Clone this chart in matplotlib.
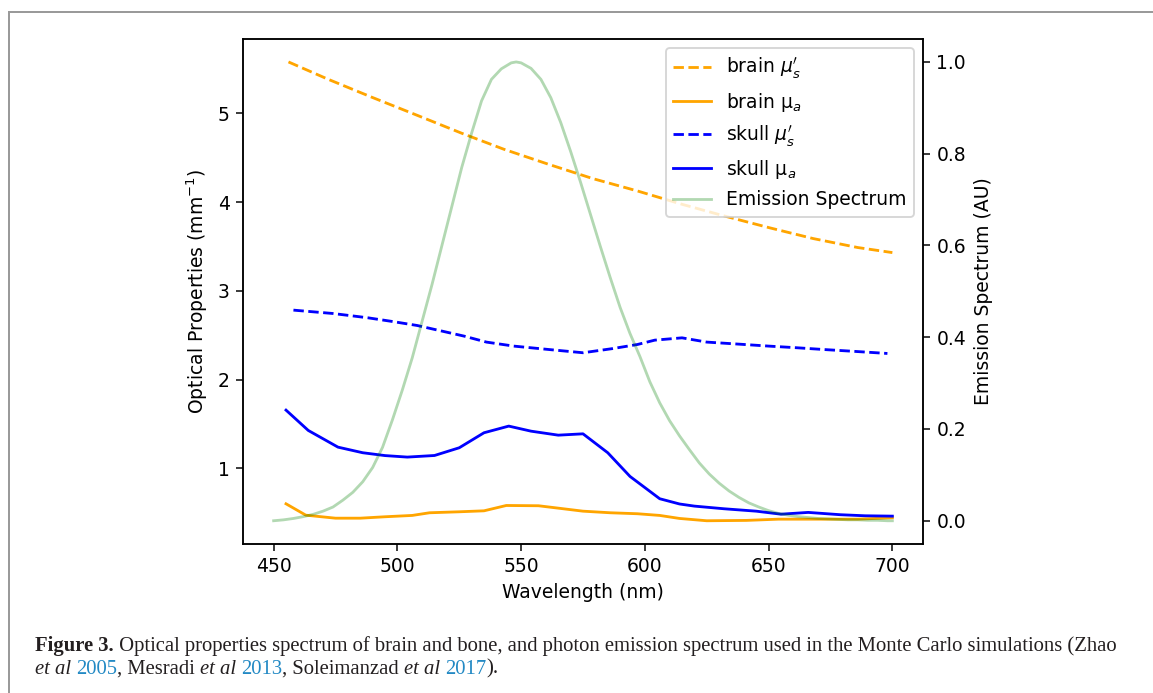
import matplotlib
matplotlib.use('Agg')
import matplotlib.pyplot as plt
from matplotlib.lines import Line2D

# ---------------- data ----------------
wl_brain_mus = [456, 472, 490, 508, 526, 543, 561, 579, 597, 615, 632, 650, 668, 686, 700]
brain_mus = [5.578, 5.383, 5.177, 4.977, 4.775, 4.595, 4.426, 4.264, 4.125, 3.975,
             3.844, 3.713, 3.589, 3.488, 3.431]

wl_brain_mua = [455, 463, 475, 485, 495, 506, 513, 525, 535, 544, 557, 565, 575, 586,
                597, 606, 614, 625, 641, 654, 668, 686, 700]
brain_mua = [0.602, 0.474, 0.440, 0.440, 0.456, 0.471, 0.501, 0.512, 0.523, 0.583, 0.580,
             0.553, 0.519, 0.501, 0.490, 0.471, 0.437, 0.411, 0.415, 0.429, 0.429, 0.429, 0.445]

wl_skull_mus = [458, 474, 488, 498, 508, 518, 527, 536, 547, 561, 575, 587, 597, 604,
                615, 625, 638, 650, 661, 672, 685, 698]
skull_mus = [2.783, 2.745, 2.697, 2.655, 2.610, 2.547, 2.490, 2.423, 2.378, 2.340, 2.303,
             2.350, 2.396, 2.445, 2.471, 2.423, 2.400, 2.378, 2.360, 2.340, 2.318, 2.295]

wl_skull_mua = [455, 464, 476, 486, 495, 504, 515, 525, 535, 545, 554, 565, 575, 585,
                594, 606, 614, 620, 632, 645, 655, 666, 679, 689, 700]
skull_mua = [1.657, 1.428, 1.240, 1.177, 1.145, 1.128, 1.146, 1.233, 1.402, 1.477, 1.420,
             1.375, 1.390, 1.177, 0.910, 0.659, 0.600, 0.576, 0.546, 0.519, 0.485, 0.505,
             0.479, 0.467, 0.463]

wl_emission = [450, 454, 458, 462, 466, 470, 474, 478, 482, 486, 490, 494, 498, 502, 506,
               510, 514, 518, 522, 526, 530, 534, 538, 542, 546, 548, 550, 554, 558, 562,
               566, 570, 574, 578, 582, 586, 590, 594, 598, 602, 606, 610, 614, 618, 622,
               626, 630, 634, 638, 642, 646, 650, 654, 658, 662, 666, 670, 674, 678, 682,
               686, 690, 694, 698, 700]
emission = [0.000, 0.002, 0.005, 0.009, 0.014, 0.021, 0.030, 0.045, 0.062, 0.085, 0.116,
            0.160, 0.220, 0.285, 0.355, 0.435, 0.515, 0.600, 0.685, 0.770, 0.845, 0.915,
            0.962, 0.985, 0.998, 1.000, 0.998, 0.986, 0.962, 0.922, 0.868, 0.805, 0.738,
            0.668, 0.598, 0.530, 0.465, 0.408, 0.358, 0.303, 0.257, 0.218, 0.185, 0.155,
            0.126, 0.102, 0.082, 0.065, 0.051, 0.039, 0.030, 0.022, 0.016, 0.012, 0.009,
            0.007, 0.005, 0.004, 0.003, 0.002, 0.002, 0.001, 0.001, 0.000, 0.000]

labels = [r"brain $\mu_s'$", r"brain μ$_a$", r"skull $\mu_s'$", r"skull μ$_a$", "Emission Spectrum"]

caption_line1 = [("Figure 3.", dict(weight='bold')),
                 (" Optical properties spectrum of brain and bone, and photon emission spectrum "
                  "used in the Monte Carlo simulations (Zhao", {})]
LINK = '#2289c4'
caption_line2 = [("et al", dict(style='italic')), (" ", {}), ("2005", dict(color=LINK)),
                 (", Mesradi ", {}), ("et al", dict(style='italic')), (" ", {}),
                 ("2013", dict(color=LINK)), (", Soleimanzad ", {}),
                 ("et al", dict(style='italic')), (" ", {}), ("2017", dict(color=LINK)),
                 (").", {})]

# ---------------- figure ----------------
DPI = 135
W, H = 1153, 693
fig = plt.figure(figsize=(W / DPI, H / DPI), dpi=DPI)
fig.patch.set_facecolor('white')

ax = fig.add_axes([242.7 / W, 1 - 543.7 / H, (923.3 - 242.7) / W, (543.7 - 39) / H])
ax2 = ax.twinx()

h1, = ax.plot(wl_brain_mus, brain_mus, '--', color='orange', lw=1.5, label=labels[0])
h2, = ax.plot(wl_brain_mua, brain_mua, '-', color='orange', lw=1.5, label=labels[1])
h3, = ax.plot(wl_skull_mus, skull_mus, '--', color='blue', lw=1.5, label=labels[2])
h4, = ax.plot(wl_skull_mua, skull_mua, '-', color='blue', lw=1.5, label=labels[3])
h5, = ax2.plot(wl_emission, emission, '-', color='green', alpha=0.3, lw=1.5, label=labels[4])

ax.set_xlabel("Wavelength (nm)")
ax.set_ylabel("Optical Properties (mm$^{-1}$)")
ax2.set_ylabel("Emission Spectrum (AU)")
ax2.legend(handles=[h1, h2, h3, h4, h5], loc='upper right')

# page frame
lw_frame = 2 * 72 / DPI
fig.add_artist(Line2D([9 / W, 9 / W], [0, 1 - 12 / H], transform=fig.transFigure,
                      color='#9a9a9a', lw=lw_frame))
fig.add_artist(Line2D([9 / W, 1], [1 - 12 / H, 1 - 12 / H], transform=fig.transFigure,
                      color='#9a9a9a', lw=lw_frame))

# caption (rich text, laid out piece by piece)
renderer = fig.canvas.get_renderer()
FAM = 'Liberation Serif'


def line_width(segs, size):
    total = 0
    for txt, kw in segs:
        t = fig.text(0, 0, txt, fontsize=size, family=FAM, **kw)
        total += t.get_window_extent(renderer).width
        t.remove()
    return total


def draw_rich(x_px, y_px, segs, size):
    x = x_px
    for txt, kw in segs:
        kw = dict(kw)
        color = kw.pop('color', '#231f20')
        t = fig.text(x / W, 1 - y_px / H, txt, fontsize=size, family=FAM,
                     va='baseline', ha='left', color=color, **kw)
        x += t.get_window_extent(renderer).width
    return x


base = line_width(caption_line1, 10)
cap_size = 10 * (1121 - 35) / base
draw_rich(35, 651.5, caption_line1, cap_size)
draw_rich(35, 673.5, caption_line2, cap_size)

fig.savefig("out.png", dpi=DPI, facecolor='white')
